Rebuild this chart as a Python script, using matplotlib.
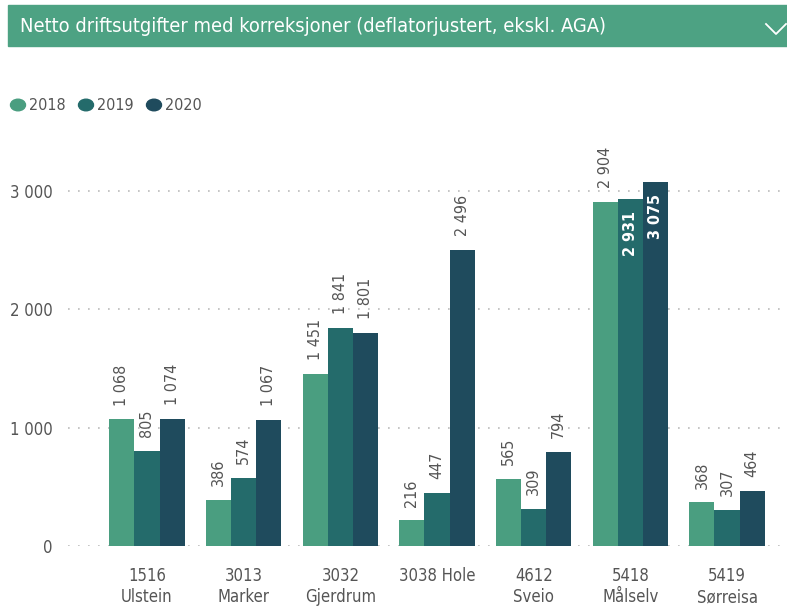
import numpy as np
import matplotlib
matplotlib.use('Agg')
import matplotlib.pyplot as plt
from matplotlib.patches import Rectangle
from matplotlib.lines import Line2D

plt.rcParams['font.family'] = ['DejaVu Sans']
plt.rcParams['font.stretch'] = 'condensed'

# data
kommuner = ['1516\nUlstein', '3013\nMarker', '3032\nGjerdrum', '3038 Hole',
            '4612\nSveio', '5418\nMålselv', '5419\nSørreisa']
years = ['2018', '2019', '2020']
v2018 = [1068, 386, 1451, 216, 565, 2904, 368]
v2019 = [805, 574, 1841, 447, 309, 2931, 307]
v2020 = [1074, 1067, 1801, 2496, 794, 3075, 464]
yticks = [0, 1000, 2000, 3000]

colors = ['#4a9e80', '#246b6b', '#1f4b5d']
series = [v2018, v2019, v2020]


def fmt(v):
    return f'{v:,}'.replace(',', '\u00a0')


fig = plt.figure(figsize=(7.87, 6.08), dpi=100)
W, H = 787, 608

# header bar
fig.patches.append(Rectangle((8 / W, 1 - 46 / H), 779 / W, 41 / H,
                             transform=fig.transFigure, color='#4da283', zorder=0))
fig.text(20 / W, 1 - 26 / H,
         'Netto driftsutgifter med korreksjoner (deflatorjustert, ekskl. AGA)',
         color='white', fontsize=14.4, va='center', ha='left')
fig.lines.append(Line2D([766 / W, 776 / W, 786 / W],
                        [1 - 24 / H, 1 - 34 / H, 1 - 24 / H],
                        transform=fig.transFigure, color='white', lw=1.3))

# legend
lx = 10
for i, y in enumerate(years):
    fig.patches.append(plt.Circle(((lx + 8) / W, 1 - 105 / H), 7.5 / W,
                                  transform=fig.transFigure, color=colors[i]))
    fig.text((lx + 19) / W, 1 - 106 / H, y, fontsize=11.5, color='#555555',
             va='center', ha='left')
    lx += 68

ax = fig.add_axes([68 / W, 1 - 546 / H, 719 / W, 391 / H])
x = np.arange(len(kommuner))
w = 0.26
ymax = 3300
for i, vals in enumerate(series):
    xs = x + (i - 1) * w
    ax.bar(xs, vals, width=w, color=colors[i], zorder=2)
    for xi, v in zip(xs, vals):
        if v > 2920:
            ax.annotate(fmt(v), (xi, v), xytext=(0, -9), textcoords='offset points',
                        rotation=90, ha='center', va='top', color='white',
                        fontsize=11.5, fontweight='bold', zorder=3)
        else:
            ax.annotate(fmt(v), (xi, v), xytext=(0, 10), textcoords='offset points',
                        rotation=90, ha='center', va='bottom', color='#555555',
                        fontsize=11.5, zorder=3)

ax.set_ylim(0, ymax)
ax.set_xlim(-0.817, 6.62)
ax.set_yticks(yticks)
ax.set_yticklabels([fmt(t) for t in yticks])
ax.set_xticks(x)
ax.set_xticklabels(kommuner, linespacing=1.25)
ax.tick_params(length=0, labelsize=12, colors='#555555')
ax.tick_params(axis='y', pad=11)
ax.tick_params(axis='x', pad=15)
for s in ax.spines.values():
    s.set_visible(False)
ax.grid(axis='y', color='#bbbbbb', linestyle=(0, (1, 5)), linewidth=1.2, zorder=1)

fig.savefig('out.png', dpi=100)
